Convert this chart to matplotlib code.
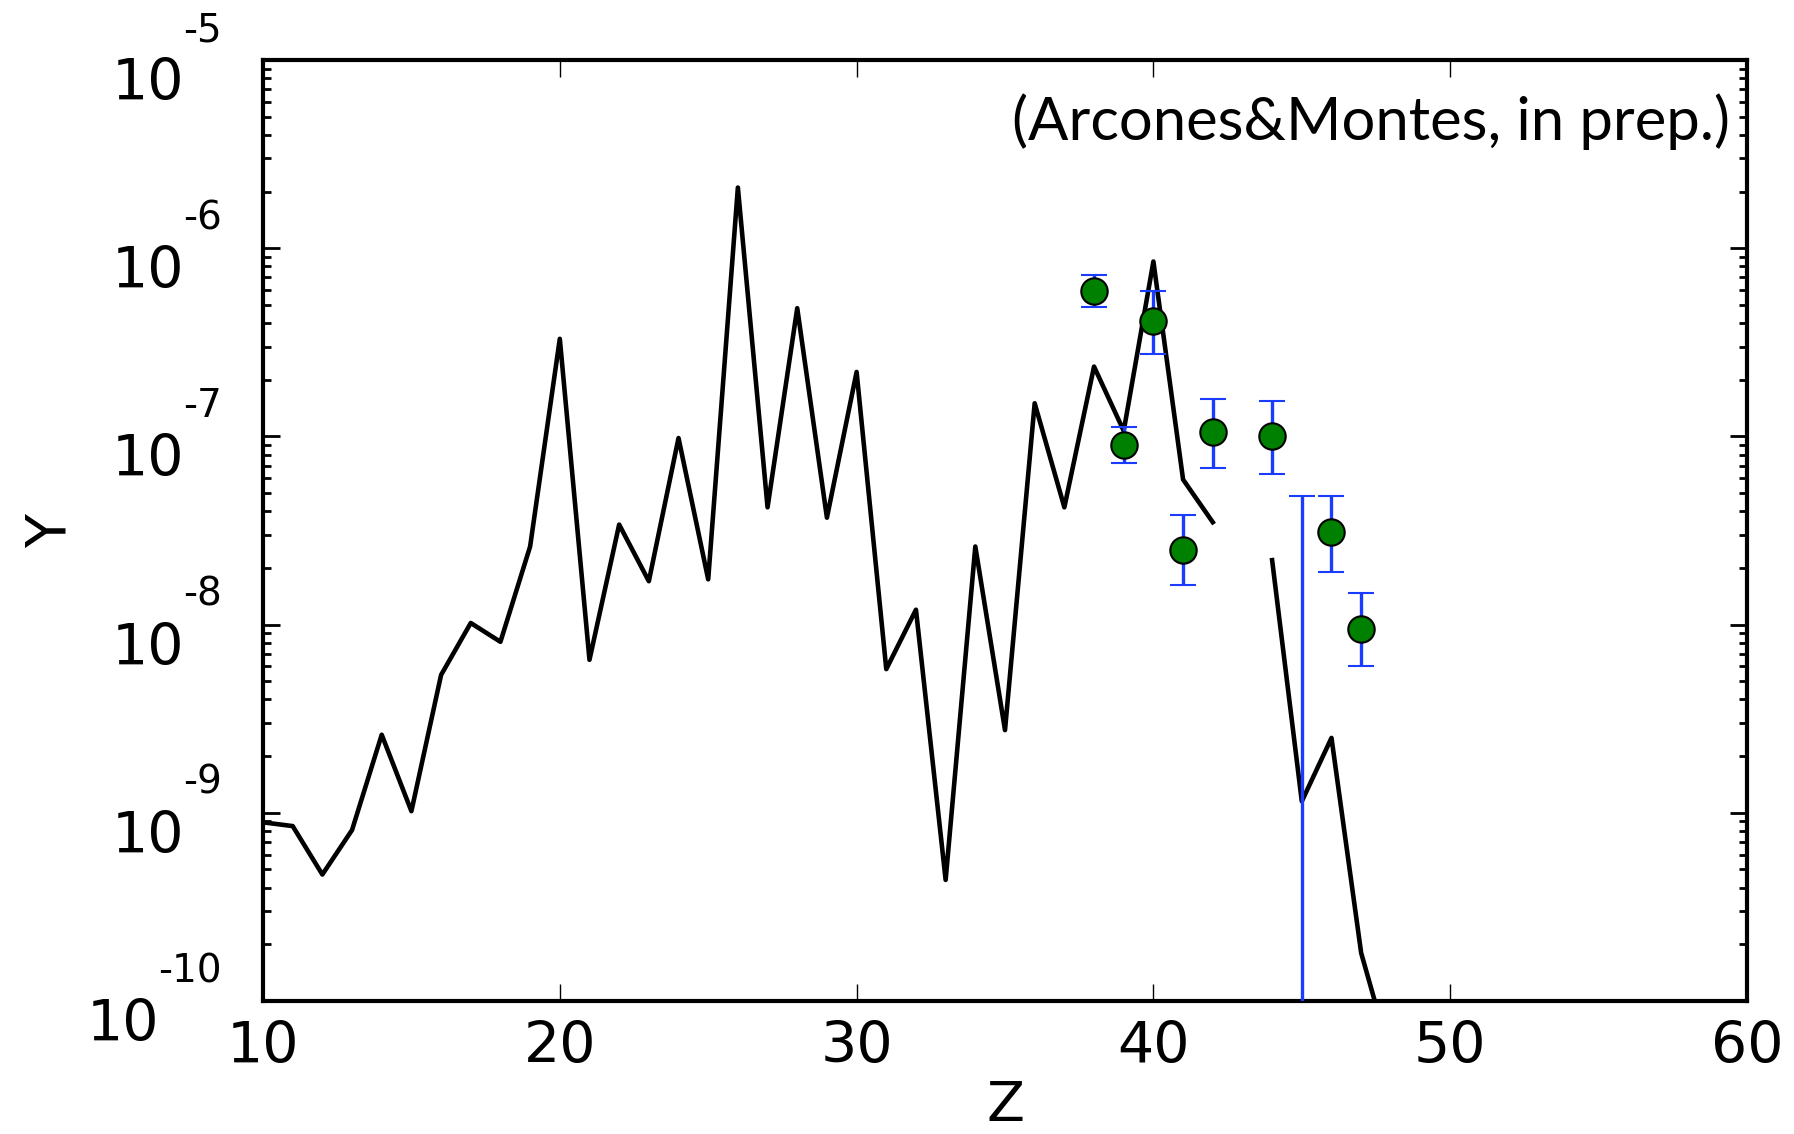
import numpy as np
import matplotlib
matplotlib.use("Agg")
import matplotlib.pyplot as plt
from matplotlib import transforms
from matplotlib.ticker import LogLocator, NullFormatter, NullLocator

# model abundances (black line), Z = 10..48, no value for Tc (43)
Z_model = np.arange(10, 49)
Y_model = np.array([
    8.9e-10, 8.5e-10, 4.7e-10, 8.1e-10, 2.6e-9, 1.02e-9, 5.4e-9, 1.02e-8,
    8.1e-9, 2.6e-8, 3.3e-7, 6.5e-9, 3.4e-8, 1.7e-8, 9.8e-8, 1.74e-8,
    2.1e-6, 4.2e-8, 4.8e-7, 3.7e-8, 2.2e-7, 5.8e-9, 1.2e-8, 4.4e-10,
    2.6e-8, 2.75e-9, 1.5e-7, 4.2e-8, 2.35e-7, 1.07e-7, 8.5e-7, 5.9e-8,
    3.5e-8, np.nan, 2.2e-8, 1.15e-9, 2.5e-9, 1.8e-10, 5e-11,
])

# observed points with error bars
Z_obs = np.array([38, 39, 40, 41, 42, 44, 45, 46, 47])
Y_obs = np.array([5.9e-7, 9.0e-8, 4.1e-7, 2.5e-8, 1.05e-7, 1.0e-7, 1e-11, 3.1e-8, 9.5e-9])
Y_hi = np.array([7.2e-7, 1.12e-7, 5.9e-7, 3.8e-8, 1.58e-7, 1.55e-7, 4.8e-8, 4.8e-8, 1.48e-8])
Y_lo = np.array([4.9e-7, 7.2e-8, 2.75e-7, 1.62e-8, 6.8e-8, 6.3e-8, 1e-12, 1.9e-8, 6.0e-9])

exponents = [-5, -6, -7, -8, -9, -10]

fig = plt.figure(figsize=(17.94, 11.34), dpi=100)
ax = fig.add_axes([263 / 1794, 1 - 1001 / 1134, 1484 / 1794, 941 / 1134])

ax.plot(Z_model, Y_model, color="black", lw=3.3, zorder=2)
ax.errorbar(Z_obs, Y_obs, yerr=[Y_obs - Y_lo, Y_hi - Y_obs], fmt="o",
            ecolor="#1a3cff", elinewidth=2.4, capsize=9.5, capthick=2.4,
            mfc="green", mec="black", mew=1.5, ms=19, zorder=3)

ax.set_yscale("log")
ax.set_xlim(10, 60)
ax.set_ylim(1e-10, 1e-5)
ax.set_xticks([10, 20, 30, 40, 50, 60])
ax.xaxis.set_minor_locator(NullLocator())
ax.yaxis.set_major_locator(LogLocator(base=10, numticks=10))
ax.yaxis.set_minor_locator(LogLocator(base=10, subs=np.arange(2, 10), numticks=50))
ax.yaxis.set_major_formatter(NullFormatter())
ax.yaxis.set_minor_formatter(NullFormatter())

ax.tick_params(axis="both", which="both", direction="in", top=True, right=True)
ax.tick_params(axis="y", which="major", length=12, width=2)
ax.tick_params(axis="y", which="minor", length=6, width=2)
ax.tick_params(axis="x", which="major", length=12, width=1, labelsize=41, pad=14)
for s in ax.spines.values():
    s.set_linewidth(3)

# old style y labels: "10" with the exponent sitting above it
trans = transforms.blended_transform_factory(ax.transAxes, ax.transData)
for e in exponents:
    t_exp = ax.text(-0.0276, 10.0 ** e, str(e), fontsize=28, ha="right", va="baseline",
                    transform=transforms.offset_copy(trans, fig=fig, y=19, units="dots"),
                    clip_on=False)
    ax.annotate("10", xy=(0, 0), xycoords=t_exp, xytext=(1, -51),
                textcoords="offset pixels", fontsize=41, ha="right", va="baseline",
                annotation_clip=False)

ax.set_xlabel("Z", fontsize=40)
ax.xaxis.set_label_coords(0.5, -0.083)
ax.set_ylabel("Y", fontsize=40)
ax.yaxis.set_label_coords(-0.125, 0.5)

ax.text(0.9885, 0.965, "(Arcones&Montes, in prep.)", transform=ax.transAxes,
        ha="right", va="top", fontsize=43, family="Lato")

fig.savefig("out.png", dpi=100)
